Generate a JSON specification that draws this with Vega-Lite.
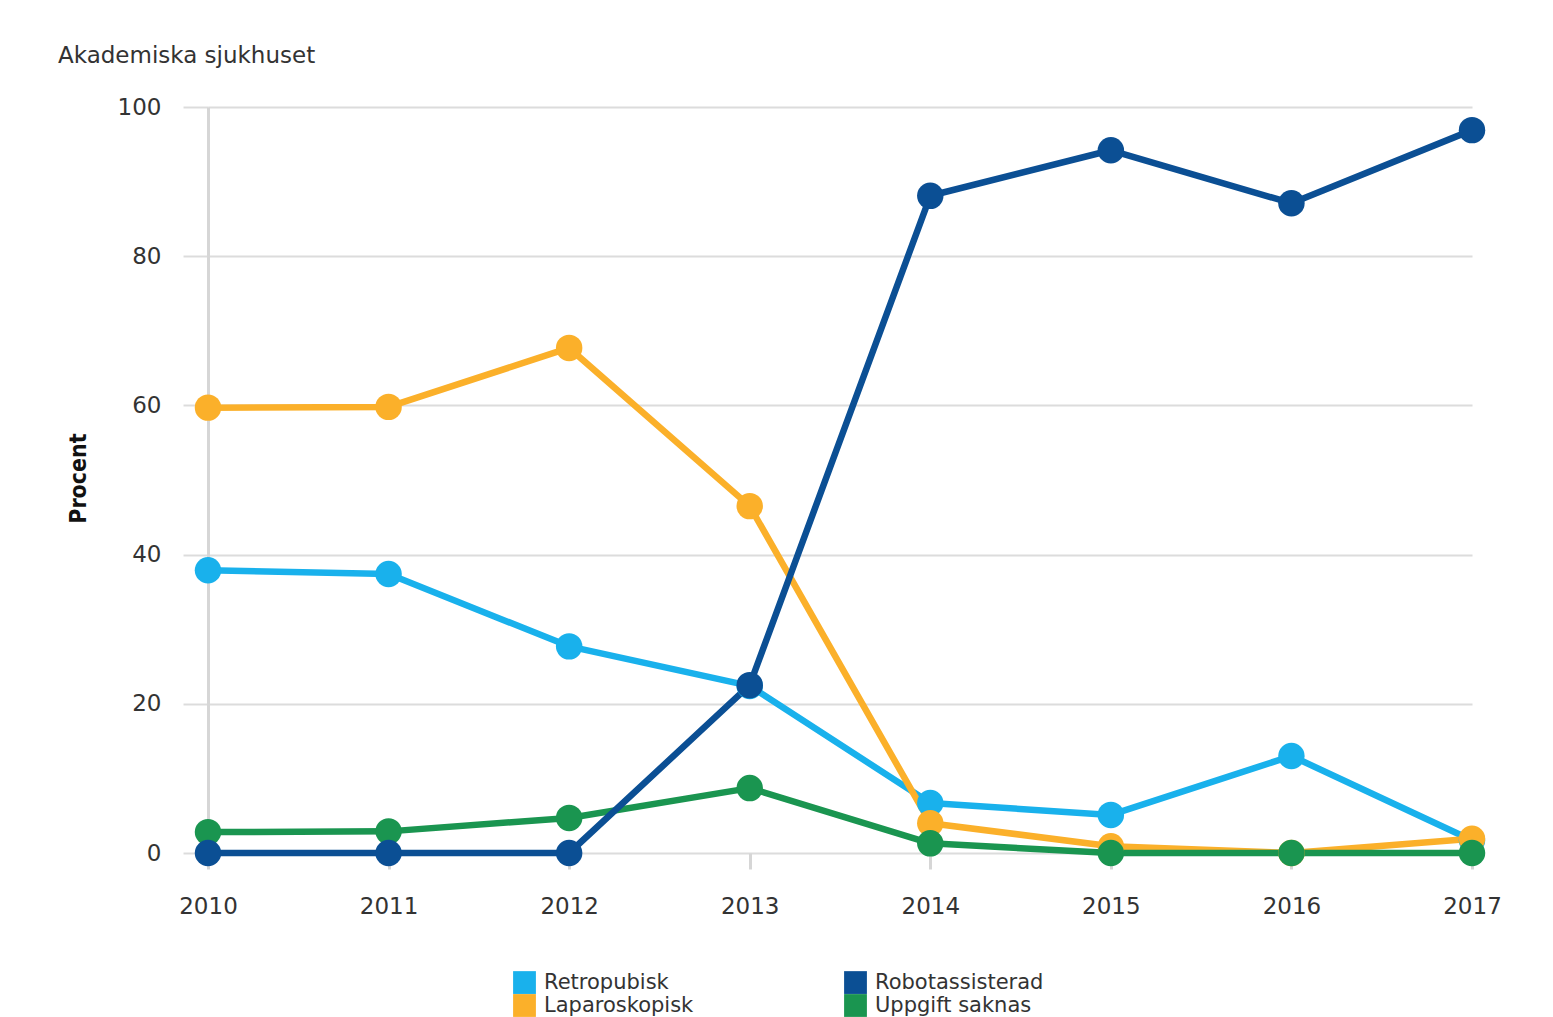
{
  "$schema": "https://vega.github.io/schema/vega-lite/v6.json",
  "width": 1264,
  "height": 746,
  "autosize": {"type": "none"},
  "padding": {"left": 208, "top": 107, "right": 81, "bottom": 164},
  "background": "white",
  "title": {
    "text": "Akademiska sjukhuset",
    "anchor": "start",
    "frame": "group",
    "dx": -150,
    "offset": 28,
    "font": "DejaVu Sans",
    "fontSize": 23,
    "fontWeight": "normal",
    "color": "#333333"
  },
  "config": {
    "view": {"stroke": null},
    "font": "DejaVu Sans"
  },
  "data": {
    "values": [
      {"year": 2010, "series": "Retropubisk", "value": 37.9},
      {"year": 2011, "series": "Retropubisk", "value": 37.4},
      {"year": 2012, "series": "Retropubisk", "value": 27.7},
      {"year": 2013, "series": "Retropubisk", "value": 22.4},
      {"year": 2014, "series": "Retropubisk", "value": 6.7},
      {"year": 2015, "series": "Retropubisk", "value": 5.1},
      {"year": 2016, "series": "Retropubisk", "value": 13.0},
      {"year": 2017, "series": "Retropubisk", "value": 1.7},
      {"year": 2010, "series": "Laparoskopisk", "value": 59.7},
      {"year": 2011, "series": "Laparoskopisk", "value": 59.8},
      {"year": 2012, "series": "Laparoskopisk", "value": 67.7},
      {"year": 2013, "series": "Laparoskopisk", "value": 46.5},
      {"year": 2014, "series": "Laparoskopisk", "value": 4.0},
      {"year": 2015, "series": "Laparoskopisk", "value": 0.9},
      {"year": 2016, "series": "Laparoskopisk", "value": 0},
      {"year": 2017, "series": "Laparoskopisk", "value": 1.9},
      {"year": 2010, "series": "Uppgift saknas", "value": 2.8},
      {"year": 2011, "series": "Uppgift saknas", "value": 2.9},
      {"year": 2012, "series": "Uppgift saknas", "value": 4.7},
      {"year": 2013, "series": "Uppgift saknas", "value": 8.7},
      {"year": 2014, "series": "Uppgift saknas", "value": 1.3},
      {"year": 2015, "series": "Uppgift saknas", "value": 0},
      {"year": 2016, "series": "Uppgift saknas", "value": 0},
      {"year": 2017, "series": "Uppgift saknas", "value": 0},
      {"year": 2010, "series": "Robotassisterad", "value": 0},
      {"year": 2011, "series": "Robotassisterad", "value": 0},
      {"year": 2012, "series": "Robotassisterad", "value": 0},
      {"year": 2013, "series": "Robotassisterad", "value": 22.5},
      {"year": 2014, "series": "Robotassisterad", "value": 88.1},
      {"year": 2015, "series": "Robotassisterad", "value": 94.2},
      {"year": 2016, "series": "Robotassisterad", "value": 87.1},
      {"year": 2017, "series": "Robotassisterad", "value": 96.9}
    ]
  },
  "encoding": {
    "x": {
      "field": "year",
      "type": "quantitative",
      "scale": {"domain": [2010, 2017], "nice": false, "zero": false},
      "axis": {
        "title": null,
        "values": [2010, 2011, 2012, 2013, 2014, 2015, 2016, 2017],
        "format": "d",
        "grid": false,
        "domain": false,
        "ticks": true,
        "tickColor": "#d6d6d6",
        "tickWidth": 3,
        "tickSize": 16,
        "labelPadding": 26,
        "labelFont": "DejaVu Sans",
        "labelFontSize": 23,
        "labelColor": "#333333",
        "labelFlush": false
      }
    },
    "y": {
      "field": "value",
      "type": "quantitative",
      "scale": {"domain": [0, 100], "nice": false},
      "axis": {
        "title": "Procent",
        "values": [0, 20, 40, 60, 80, 100],
        "grid": true,
        "gridColor": "#dcdcdc",
        "gridWidth": 2,
        "domain": true,
        "domainColor": "#d6d6d6",
        "domainWidth": 3,
        "ticks": true,
        "tickColor": "#dcdcdc",
        "tickWidth": 2,
        "tickSize": 25,
        "labelPadding": 22,
        "labelFont": "DejaVu Sans",
        "labelFontSize": 23,
        "labelColor": "#333333",
        "titleFont": "DejaVu Sans Condensed, Liberation Sans, sans-serif",
        "titleFontSize": 23,
        "titleFontWeight": "bold",
        "titleColor": "#111111",
        "titleAngle": -90,
        "titleX": -123,
        "titleY": 371,
        "titleAlign": "center",
        "titleBaseline": "alphabetic"
      }
    },
    "color": {
      "field": "series",
      "type": "nominal",
      "scale": {
        "domain": ["Retropubisk", "Robotassisterad", "Laparoskopisk", "Uppgift saknas"],
        "range": ["#19b1ec", "#0b4f94", "#fbb02a", "#1a9550"]
      },
      "legend": {
        "title": null,
        "orient": "none",
        "legendX": 305,
        "legendY": 864,
        "columns": 2,
        "direction": "horizontal",
        "symbolType": "square",
        "symbolSize": 520,
        "symbolStrokeWidth": 0,
        "symbolOpacity": 1,
        "rowPadding": 0,
        "columnPadding": 150,
        "labelFont": "DejaVu Sans",
        "labelFontSize": 21,
        "labelColor": "#333333",
        "labelOffset": 8,
        "labelLimit": 400,
        "padding": 0
      }
    }
  },
  "layer": [
    {
      "mark": {"type": "line", "strokeWidth": 6.5, "strokeCap": "round", "strokeJoin": "round"}
    },
    {
      "mark": {"type": "point", "filled": true, "size": 700, "opacity": 1, "shape": "circle"}
    }
  ]
}
